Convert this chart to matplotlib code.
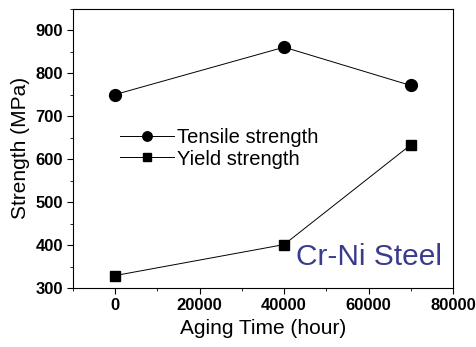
import matplotlib
matplotlib.use("Agg")
import matplotlib.pyplot as plt
from matplotlib.ticker import MultipleLocator

plt.rcParams['font.family'] = ['Liberation Sans', 'DejaVu Sans']

aging_time = [0, 40000, 70000]
tensile = [750, 860, 771]
yield_s = [329, 401, 633]
xticks = [0, 20000, 40000, 60000, 80000]
yticks = [300, 400, 500, 600, 700, 800, 900]

fig = plt.figure(figsize=(4.76, 3.47), dpi=100)
ax = fig.add_axes([73/476, 1-288/347, (453-73)/476, (288-8.5)/347])

ax.plot(aging_time, tensile, color='black', lw=0.7, marker='o', ms=8.5, label='Tensile strength')
ax.plot(aging_time, yield_s, color='black', lw=0.7, marker='s', ms=7.5, label='Yield strength')

ax.set_xlim(-10000, 80000)
ax.set_ylim(300, 950)
ax.set_xticks(xticks)
ax.set_yticks(yticks)
ax.xaxis.set_minor_locator(MultipleLocator(10000))
ax.yaxis.set_minor_locator(MultipleLocator(50))
ax.tick_params(which='major', direction='out', length=4.3, width=0.8, labelsize=12, pad=3)
ax.tick_params(which='minor', direction='out', length=2.5, width=0.6)
for lab in ax.get_xticklabels() + ax.get_yticklabels():
    lab.set_fontweight('bold')
for s in ax.spines.values():
    s.set_linewidth(0.8)

ax.set_xlabel('Aging Time (hour)', fontsize=15, labelpad=4)
ax.set_ylabel('Strength (MPa)', fontsize=15, labelpad=4)

ax.legend(loc='upper left', bbox_to_anchor=(0.123, 0.572), frameon=False, fontsize=14.5,
          handlelength=2.7, handletextpad=0.15, labelspacing=0.12, borderpad=0,
          borderaxespad=0, markerscale=0.8)

ax.text(0.97, 0.111, 'Cr-Ni Steel', transform=ax.transAxes, ha='right', va='center',
        fontsize=21.5, color='#3b3b8e')

fig.savefig('out.png', dpi=100)
